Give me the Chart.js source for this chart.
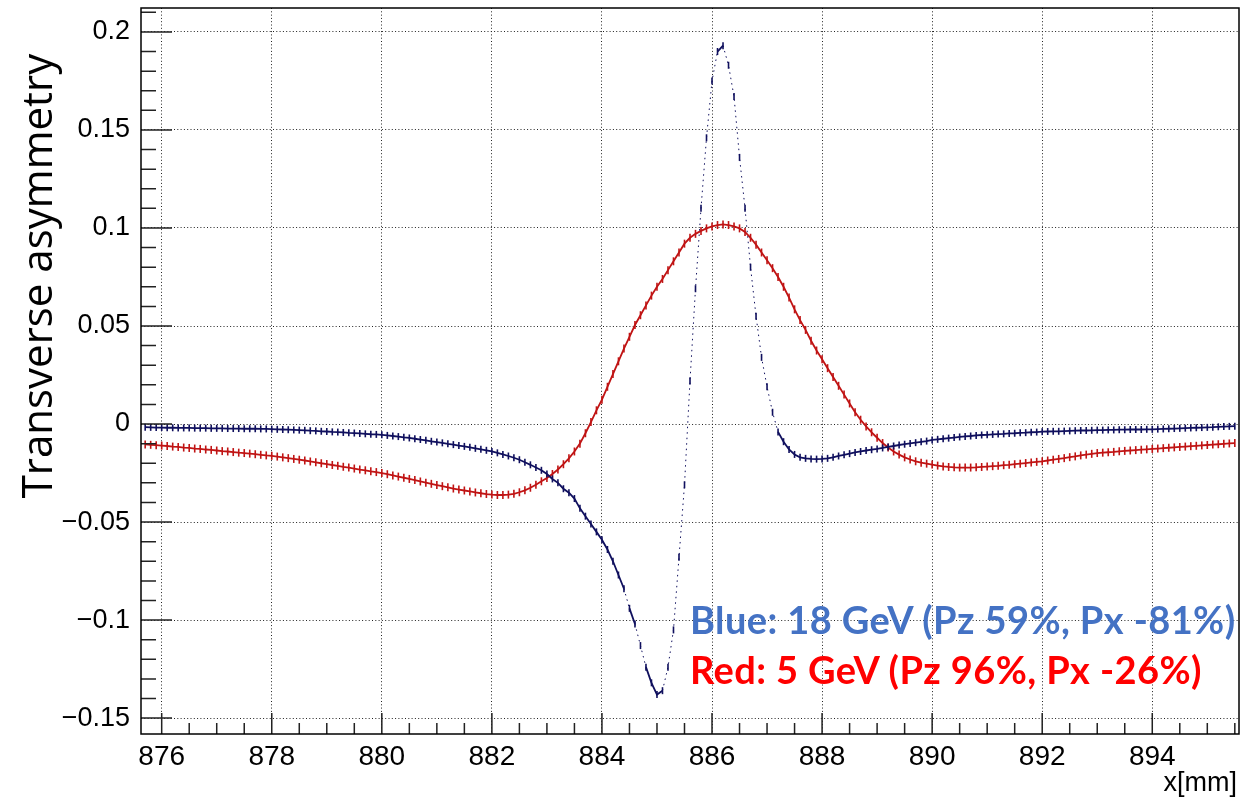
<!DOCTYPE html>
<html>
<head>
<meta charset="utf-8">
<script src="https://cdn.jsdelivr.net/npm/chart.js@4.4.0/dist/chart.umd.min.js"></script>
<style>
  html, body { margin: 0; padding: 0; background: #fff; }
  #wrap { position: relative; width: 1245px; height: 799px; }
  #plot { display: block; }
  .note { position: absolute; font-family: 'Lato', sans-serif; font-weight: bold; font-size: 38px; line-height: 1.2; letter-spacing: 0.4px; white-space: nowrap; }
</style>
</head>
<body>
<div id="wrap">
  <canvas id="plot" width="1245" height="799"></canvas>
  <div class="note" style="left:690px; top:597px; color:#4472c4;">Blue: 18 GeV (Pz 59%, Px -81%)</div>
  <div class="note" style="left:690px; top:647px; color:#ff0000;">Red: 5 GeV (Pz 96%, Px -26%)</div>
</div>
<script>
// histogram bins, x[mm]
const binStart = 875.7;
const binWidth = 0.1;

// 18 GeV, one row per mm (first row 875.7 - 875.9)
const blueValues = [
  -0.0016, -0.0017, -0.0018,
  -0.0018, -0.0019, -0.0019, -0.0020, -0.0020, -0.0020, -0.0021, -0.0021, -0.0021, -0.0022,
  -0.0022, -0.0022, -0.0023, -0.0023, -0.0023, -0.0024, -0.0024, -0.0024, -0.0025, -0.0025,
  -0.0026, -0.0027, -0.0028, -0.0029, -0.0030, -0.0031, -0.0032, -0.0034, -0.0035, -0.0037,
  -0.0038, -0.0040, -0.0041, -0.0043, -0.0045, -0.0046, -0.0048, -0.0050, -0.0052, -0.0053,
  -0.0055, -0.0058, -0.0061, -0.0064, -0.0068, -0.0071, -0.0075, -0.0079, -0.0083, -0.0088,
  -0.0092, -0.0096, -0.0101, -0.0105, -0.0110, -0.0114, -0.0119, -0.0124, -0.0129, -0.0134,
  -0.0140, -0.0147, -0.0155, -0.0163, -0.0172, -0.0182, -0.0195, -0.0208, -0.0222, -0.0236,
  -0.0255, -0.0280, -0.0300, -0.0330, -0.0350, -0.0380, -0.0430, -0.0470, -0.0510, -0.0550,
  -0.0590, -0.0640, -0.0700, -0.0770, -0.0840, -0.0940, -0.1020, -0.1130, -0.1240, -0.1320,
  -0.1380, -0.1360, -0.1240, -0.1050, -0.0680, -0.0310, 0.0220, 0.0690, 0.1100, 0.1460,
  0.1750, 0.1900, 0.1930, 0.1830, 0.1670, 0.1360, 0.1100, 0.0800, 0.0550, 0.0340,
  0.0190, 0.0060, -0.0040, -0.0090, -0.0130, -0.0155, -0.0170, -0.0175, -0.0178, -0.0179,
  -0.0178, -0.0175, -0.0170, -0.0163, -0.0157, -0.0151, -0.0145, -0.0140, -0.0135, -0.0131,
  -0.0127, -0.0122, -0.0117, -0.0112, -0.0107, -0.0103, -0.0099, -0.0095, -0.0091, -0.0087,
  -0.0081, -0.0078, -0.0075, -0.0072, -0.0069, -0.0066, -0.0063, -0.0061, -0.0058, -0.0056,
  -0.0055, -0.0053, -0.0051, -0.0050, -0.0048, -0.0047, -0.0045, -0.0044, -0.0042, -0.0041,
  -0.0039, -0.0038, -0.0037, -0.0037, -0.0036, -0.0035, -0.0034, -0.0033, -0.0033, -0.0032,
  -0.0031, -0.0031, -0.0030, -0.0030, -0.0029, -0.0029, -0.0028, -0.0028, -0.0028, -0.0027,
  -0.0027, -0.0026, -0.0025, -0.0024, -0.0023, -0.0022, -0.0021, -0.0020, -0.0019, -0.0018,
  -0.0017, -0.0016, -0.0014, -0.0013, -0.0012, -0.0011
];

// 5 GeV, same bins
const redValues = [
  -0.0104, -0.0106, -0.0108,
  -0.0110, -0.0112, -0.0115, -0.0117, -0.0120, -0.0122, -0.0125, -0.0127, -0.0130, -0.0132,
  -0.0135, -0.0138, -0.0140, -0.0143, -0.0146, -0.0148, -0.0151, -0.0154, -0.0157, -0.0160,
  -0.0162, -0.0166, -0.0170, -0.0174, -0.0178, -0.0182, -0.0186, -0.0191, -0.0195, -0.0200,
  -0.0204, -0.0209, -0.0213, -0.0218, -0.0222, -0.0227, -0.0232, -0.0236, -0.0241, -0.0245,
  -0.0250, -0.0256, -0.0262, -0.0268, -0.0274, -0.0280, -0.0286, -0.0293, -0.0299, -0.0305,
  -0.0311, -0.0317, -0.0323, -0.0329, -0.0334, -0.0339, -0.0344, -0.0349, -0.0353, -0.0357,
  -0.0360, -0.0362, -0.0362, -0.0360, -0.0356, -0.0348, -0.0338, -0.0325, -0.0310, -0.0292,
  -0.0275, -0.0255, -0.0232, -0.0205, -0.0175, -0.0140, -0.0100, -0.0047, 0.0010, 0.0070,
  0.0124, 0.0190, 0.0255, 0.0320, 0.0385, 0.0445, 0.0505, 0.0555, 0.0605, 0.0655,
  0.0700, 0.0740, 0.0785, 0.0830, 0.0875, 0.0920, 0.0950, 0.0970, 0.0985, 0.0998,
  0.1008, 0.1015, 0.1018, 0.1015, 0.1008, 0.0998, 0.0980, 0.0950, 0.0915, 0.0875,
  0.0835, 0.0795, 0.0750, 0.0700, 0.0645, 0.0585, 0.0530, 0.0480, 0.0425, 0.0375,
  0.0330, 0.0285, 0.0240, 0.0195, 0.0150, 0.0105, 0.0060, 0.0022, -0.0012, -0.0042,
  -0.0070, -0.0097, -0.0120, -0.0140, -0.0156, -0.0170, -0.0181, -0.0190, -0.0197, -0.0202,
  -0.0207, -0.0212, -0.0216, -0.0219, -0.0221, -0.0222, -0.0222, -0.0222, -0.0221, -0.0219,
  -0.0217, -0.0215, -0.0213, -0.0210, -0.0208, -0.0205, -0.0202, -0.0199, -0.0196, -0.0193,
  -0.0190, -0.0186, -0.0182, -0.0178, -0.0174, -0.0169, -0.0165, -0.0160, -0.0156, -0.0152,
  -0.0148, -0.0146, -0.0144, -0.0142, -0.0139, -0.0137, -0.0135, -0.0133, -0.0131, -0.0129,
  -0.0127, -0.0125, -0.0123, -0.0121, -0.0119, -0.0117, -0.0115, -0.0113, -0.0111, -0.0109,
  -0.0107, -0.0105, -0.0103, -0.0101, -0.0099, -0.0097
];

const xTickValues = [876, 878, 880, 882, 884, 886, 888, 890, 892, 894];
const yTickValues = [-0.15, -0.1, -0.05, 0, 0.05, 0.1, 0.15, 0.2];
const yTickLabels = ['\u22120.15', '\u22120.1', '\u22120.05', '0', '0.05', '0.1', '0.15', '0.2'];

const blueColor = '#10105e';
const redColor = '#c01414';

function toPoints(values) {
    return values.map((v, i) => ({ x: +(binStart + i * binWidth).toFixed(2), y: v }));
}

// steep parts of the curve only show separate error bars in the original
const isSteep = ctx => Math.abs(ctx.p1.y - ctx.p0.y) > 16;
const steepDash = ctx => isSteep(ctx) ? [1.5, 4] : undefined;
const steepWidth = ctx => isSteep(ctx) ? 1 : 1.8;

// ROOT-like frame: box, inward ticks, axis titles
const rootFrame = {
    id: 'rootFrame',
    afterDraw(chart) {
        const { ctx, chartArea: a, scales: { x, y } } = chart;
        ctx.save();
        ctx.strokeStyle = '#222';
        ctx.lineWidth = 1.5;

        ctx.beginPath();
        for (let v = 875.5; v <= 895.6; v += 0.5) {
            const px = x.getPixelForValue(v);
            if (px < a.left || px > a.right) continue;
            const len = Math.abs(v % 2) < 1e-6 ? 21 : 11;
            ctx.moveTo(px, a.bottom);
            ctx.lineTo(px, a.bottom - len);
        }
        for (let k = -16; k <= 21; k++) {
            const py = y.getPixelForValue(k / 100);
            if (py < a.top || py > a.bottom) continue;
            const len = k % 5 === 0 ? 31 : 15;
            ctx.moveTo(a.left, py);
            ctx.lineTo(a.left + len, py);
        }
        ctx.stroke();

        ctx.strokeStyle = '#000';
        ctx.lineWidth = 1.5;
        ctx.strokeRect(a.left, a.top, a.right - a.left, a.bottom - a.top);

        ctx.fillStyle = '#000';
        ctx.font = '27px "Liberation Sans"';
        ctx.textAlign = 'right';
        ctx.textBaseline = 'alphabetic';
        ctx.fillText('x[mm]', 1237, 791);

        ctx.translate(40, 276);
        ctx.rotate(-Math.PI / 2);
        ctx.textAlign = 'center';
        ctx.textBaseline = 'middle';
        ctx.font = '42px "Open Sans"';
        ctx.fillText('Transverse asymmetry', 0, 0);
        ctx.restore();
    }
};

new Chart(document.getElementById('plot'), {
    type: 'scatter',
    data: {
        datasets: [
            {
                label: 'Blue: 18 GeV',
                data: toPoints(blueValues),
                showLine: true,
                borderColor: blueColor,
                borderWidth: 1.8,
                pointStyle: 'line',
                rotation: 90,
                pointRadius: 3.5,
                pointBorderWidth: 1.6,
                pointBorderColor: blueColor,
                segment: { borderDash: steepDash, borderWidth: steepWidth }
            },
            {
                label: 'Red: 5 GeV',
                data: toPoints(redValues),
                showLine: true,
                borderColor: redColor,
                borderWidth: 1.8,
                pointStyle: 'line',
                rotation: 90,
                pointRadius: 4,
                pointBorderWidth: 1.6,
                pointBorderColor: redColor,
                segment: { borderDash: steepDash, borderWidth: steepWidth }
            }
        ]
    },
    options: {
        responsive: false,
        devicePixelRatio: 1,
        animation: false,
        layout: { padding: { top: 8, right: 6, left: 0, bottom: 0 } },
        plugins: { legend: { display: false }, tooltip: { enabled: false } },
        scales: {
            x: {
                type: 'linear',
                min: 875.624,
                max: 895.576,
                afterBuildTicks: s => { s.ticks = xTickValues.map(v => ({ value: v })); },
                afterFit: s => { s.height = 65; s.paddingLeft = 0; s.paddingRight = 0; },
                grid: { color: '#222', lineWidth: 1, drawTicks: false },
                border: { display: false, dash: [1, 2.3] },
                ticks: {
                    color: '#000',
                    padding: 6,
                    maxRotation: 0,
                    font: { family: '"Liberation Sans"', size: 28 },
                    callback: v => String(v)
                }
            },
            y: {
                type: 'linear',
                min: -0.1581,
                max: 0.2122,
                afterBuildTicks: s => { s.ticks = yTickValues.map(v => ({ value: v })); },
                afterFit: s => { s.width = 141; s.paddingTop = 0; s.paddingBottom = 0; },
                grid: { color: '#222', lineWidth: 1, drawTicks: false },
                border: { display: false, dash: [1, 2.3] },
                ticks: {
                    color: '#000',
                    padding: 11,
                    font: { family: '"Liberation Sans"', size: 27 },
                    callback: (v, i) => yTickLabels[i]
                }
            }
        }
    },
    plugins: [rootFrame]
});
</script>
</body>
</html>
